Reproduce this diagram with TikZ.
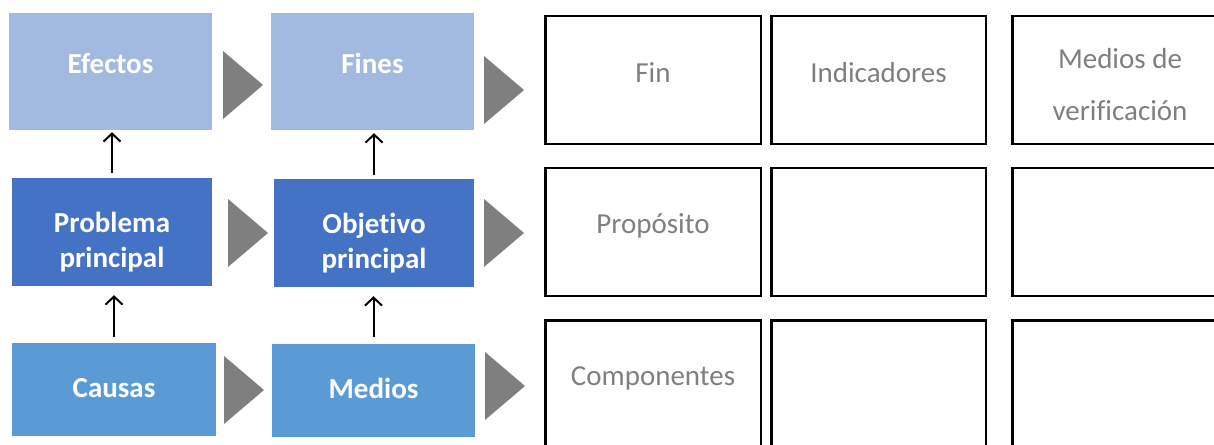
\documentclass[tikz,border=0pt]{standalone}
\usepackage{fontspec}
\setmainfont{Carlito}[Ligatures=NoCommon]
\usetikzlibrary{arrows.meta, positioning}
\definecolor{azulclaro}{HTML}{A2B9E0}
\definecolor{azul}{HTML}{4472C4}
\definecolor{azulmedio}{HTML}{5B9BD5}
\definecolor{gris}{HTML}{7F7F7F}

\begin{document}
\begin{tikzpicture}[x=1pt, y=-1pt,
  caja/.style={rectangle, inner sep=0pt, minimum width=203pt},
  celda/.style={rectangle, draw, line width=2.5pt, inner sep=0pt, minimum width=215.5pt, minimum height=128pt},
  titulo/.style={anchor=base, text=white, font=\fontsize{29}{35}\selectfont\bfseries, align=center},
  texto/.style={anchor=base, text=gris, font=\fontsize{29}{52}\selectfont, align=center},
  flecha/.style={-{Straight Barb[length=8pt, width=17pt]}, line width=2pt}]

            \useasboundingbox (0,0) rectangle (1214,444);

            % arbol de problemas y de objetivos
            \node[caja, fill=azulclaro, minimum height=117pt] (efectos) at (110.5,71.5) {};
            \node[caja, fill=azulclaro, minimum height=117pt] (fines) at (372.5,71.5) {};
            \node[caja, fill=azul, minimum width=200pt, minimum height=108pt] (problema) at (112,232) {};
            \node[caja, fill=azul, minimum width=200pt, minimum height=108pt] (objetivo) at (374,233) {};
            \node[caja, fill=azulmedio, minimum width=204pt, minimum height=93pt] (causas) at (114,389.5) {};
            \node[caja, fill=azulmedio, minimum height=93pt] (medios) at (373.5,390.5) {};

            \node[titulo] (t-efectos) at ([yshift=-2.5pt]efectos.center) {Efectos};
            \node[titulo] (t-fines) at ([yshift=-2.5pt]fines.center) {Fines};
            \node[titulo] (t-problema) at ([yshift=-35pt]problema.center) {Problema\\principal};
            \node[titulo] (t-objetivo) at ([yshift=-35pt]objetivo.center) {Objetivo\\principal};
            \node[titulo] (t-causas) at ([yshift=-7.5pt]causas.center) {Causas};
            \node[titulo] (t-medios) at ([yshift=-7.5pt]medios.center) {Medios};

            % matriz de marco logico
            \node[celda] (fin) at (653,80) {};
            \node[celda, minimum width=214.5pt] (indicadores) at (878.5,80) {};
            \node[celda] (verificacion) at (1120,80) {};
            \node[celda] (proposito) at (653,232) {};
            \node[celda, minimum width=214.5pt] (c22) at (878.5,232) {};
            \node[celda] (c23) at (1120,232) {};
            \node[celda] (componentes) at (653,384.25) {};
            \node[celda, minimum width=214.5pt] (c32) at (878.5,384.25) {};
            \node[celda] (c33) at (1120,384.25) {};

            \node[texto] (t-fin) at ([yshift=-2pt]fin.center) {Fin};
            \node[texto] (t-indicadores) at ([yshift=-2pt]indicadores.center) {Indicadores};
            \node[texto] (t-verificacion) at ([yshift=-40pt]verificacion.center) {Medios de\\verificación};
            \node[texto] (t-proposito) at ([yshift=-1pt]proposito.center) {Propósito};
            \node[texto] (t-componentes) at ([yshift=-1pt]componentes.center) {Componentes};

            % triangulos grises
            \foreach \x/\y in {223/51, 484/56, 228/199, 484/199, 224/356, 485/352}
                \fill[gris] (\x,\y) -- ++(40,34) -- ++(-40,34) -- cycle;

            \draw[flecha, shorten <=5pt, shorten >=2pt] (problema.north) -- (problema.north |- efectos.south);
            \draw[flecha, shorten <=4pt, shorten >=3pt] (objetivo.north) -- (objetivo.north |- fines.south);
            \draw[flecha, shorten <=6pt, shorten >=9pt] (causas.north) -- (causas.north |- problema.south);
            \draw[flecha, shorten <=7pt, shorten >=9pt] (medios.north) -- (medios.north |- objetivo.south);

        \end{tikzpicture}
\end{document}
